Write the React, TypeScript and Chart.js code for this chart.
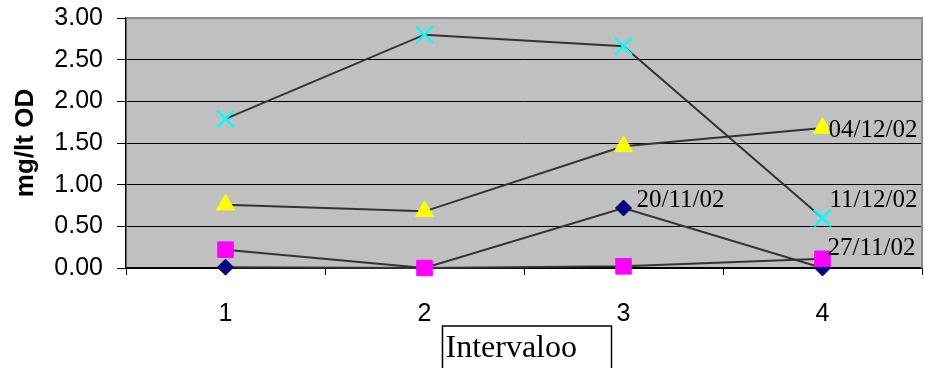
import React, { useEffect, useRef } from "react";
import { Chart, registerables } from "chart.js";

Chart.register(...registerables);

const categories = ["1", "2", "3", "4"];
const seriesNames = ["20/11/02", "27/11/02", "04/12/02", "11/12/02"];
const s20_11 = [0.01, 0.0, 0.72, 0.0];
const s27_11 = [0.22, 0.0, 0.02, 0.11];
const s04_12 = [0.76, 0.68, 1.46, 1.68];
const s11_12 = [1.79, 2.8, 2.66, 0.6];
const yTicks = [0, 0.5, 1, 1.5, 2, 2.5, 3];
const yTitle = "mg/lt OD";
const xTitle = "Intervaloo";

// index of the point that carries each series' name label
const labelPoint = [2, 3, 3, 3];

const SANS = "'Liberation Sans', Arial, sans-serif";
const SERIF = "'Liberation Serif', 'Times New Roman', serif";

export default function App() {
  const ref = useRef<HTMLCanvasElement | null>(null);

  useEffect(() => {
    if (!ref.current) return;
    const labelOffsets = [
      [13, -1],
      [5, -4],
      [6, 9],
      [7, -11],
    ];

    const plotBg = {
      id: "plotBg",
      beforeDraw(chart: any) {
        const { ctx, chartArea: a } = chart;
        ctx.save();
        ctx.fillStyle = "#C0C0C0";
        ctx.fillRect(a.left, a.top, a.right - a.left, a.bottom - a.top);
        ctx.restore();
      },
      beforeDatasetsDraw(chart: any) {
        const { ctx, chartArea: a } = chart;
        ctx.save();
        ctx.strokeStyle = "#8a8a8a";
        ctx.lineWidth = 2;
        ctx.beginPath();
        ctx.moveTo(a.left, a.top);
        ctx.lineTo(a.right, a.top);
        ctx.lineTo(a.right, a.bottom);
        ctx.stroke();
        ctx.restore();
      },
      afterDatasetsDraw(chart: any) {
        const { ctx } = chart;
        ctx.save();
        ctx.font = `25px ${SERIF}`;
        ctx.fillStyle = "#000";
        ctx.textAlign = "left";
        ctx.textBaseline = "alphabetic";
        chart.data.datasets.forEach((ds: any, i: number) => {
          const meta = chart.getDatasetMeta(i);
          const pt = meta.data[labelPoint[i]];
          if (!pt) return;
          ctx.fillText(seriesNames[i], pt.x + labelOffsets[i][0], pt.y + labelOffsets[i][1]);
        });
        ctx.restore();
      },
      afterDraw(chart: any) {
        const { ctx, chartArea: a } = chart;
        const cx = (a.left + a.right) / 2 + 3;
        const w = 169;
        const top = a.bottom + 58;
        ctx.save();
        ctx.strokeStyle = "#000";
        ctx.lineWidth = 1.5;
        ctx.strokeRect(cx - w / 2, top, w, 60);
        ctx.font = `32px ${SERIF}`;
        ctx.fillStyle = "#000";
        ctx.textAlign = "left";
        ctx.textBaseline = "alphabetic";
        ctx.fillText(xTitle, cx - w / 2 + 3, top + 31);
        ctx.restore();
      },
    };

    const lineColor = "#333333";
    const chart = new Chart(ref.current, {
      type: "line",
      data: {
        labels: categories,
        datasets: [
          {
            label: seriesNames[0],
            data: s20_11,
            borderColor: lineColor,
            borderWidth: 2,
            pointStyle: "rectRot",
            pointRadius: 8,
            pointBackgroundColor: "#000080",
            pointBorderColor: "#000080",
            pointBorderWidth: 1,
            order: 4,
            clip: false,
          },
          {
            label: seriesNames[1],
            data: s27_11,
            borderColor: lineColor,
            borderWidth: 2,
            pointStyle: "rect",
            pointRadius: 11,
            pointBackgroundColor: "#FF00FF",
            pointBorderColor: "#FF00FF",
            pointBorderWidth: 1,
            order: 3,
            clip: false,
          },
          {
            label: seriesNames[2],
            data: s04_12,
            borderColor: lineColor,
            borderWidth: 2,
            pointStyle: "triangle",
            pointRadius: 10.5,
            pointBackgroundColor: "#FFFF00",
            pointBorderColor: "#FFFF00",
            pointBorderWidth: 1,
            order: 2,
            clip: false,
          },
          {
            label: seriesNames[3],
            data: s11_12,
            borderColor: lineColor,
            borderWidth: 2,
            pointStyle: "crossRot",
            pointRadius: 12,
            pointBackgroundColor: "#00FFFF",
            pointBorderColor: "#00FFFF",
            pointBorderWidth: 2.5,
            order: 1,
            clip: false,
          },
        ],
      },
      options: {
        responsive: false,
        animation: false,
        devicePixelRatio: 1,
        layout: { autoPadding: false, padding: { top: 18, right: 3, left: 0, bottom: 0 } },
        plugins: {
          legend: { display: false },
          tooltip: { enabled: false },
        },
        elements: { line: { tension: 0 } },
        scales: {
          x: {
            type: "category",
            offset: true,
            grid: {
              offset: true,
              drawOnChartArea: false,
              drawTicks: true,
              tickLength: 7,
              tickColor: "#000",
            },
            border: { color: "#000", width: 1.5 },
            ticks: {
              color: "#000",
              font: { family: SANS, size: 25 },
              padding: 24,
              maxRotation: 0,
            },
            afterFit(scale: any) {
              scale.height = 100;
              scale.paddingLeft = 0;
              scale.paddingRight = 0;
            },
          },
          y: {
            min: 0,
            max: 3,
            afterBuildTicks(scale: any) {
              scale.ticks = yTicks.map((v) => ({ value: v }));
            },
            grid: {
              color: "#000",
              lineWidth: 1,
              tickLength: 9,
              tickColor: "#000",
            },
            border: { color: "#000", width: 1.5 },
            ticks: {
              color: "#000",
              font: { family: SANS, size: 25 },
              padding: 14,
              callback: (v: any) => Number(v).toFixed(2),
            },
            title: {
              display: true,
              text: yTitle,
              color: "#000",
              font: { family: SANS, size: 26, weight: "bold" },
              padding: { top: 10, bottom: 0 },
            },
            afterFit(scale: any) {
              scale.width = 126;
              scale.paddingTop = 0;
              scale.paddingBottom = 0;
            },
          },
        },
      },
      plugins: [plotBg],
    } as any);
    return () => chart.destroy();
  }, []);

  return (
    <div style={{ position: "absolute", left: 0, top: 0, width: 925, height: 368 }}>
      <canvas ref={ref} width={925} height={368} />
    </div>
  );
}
